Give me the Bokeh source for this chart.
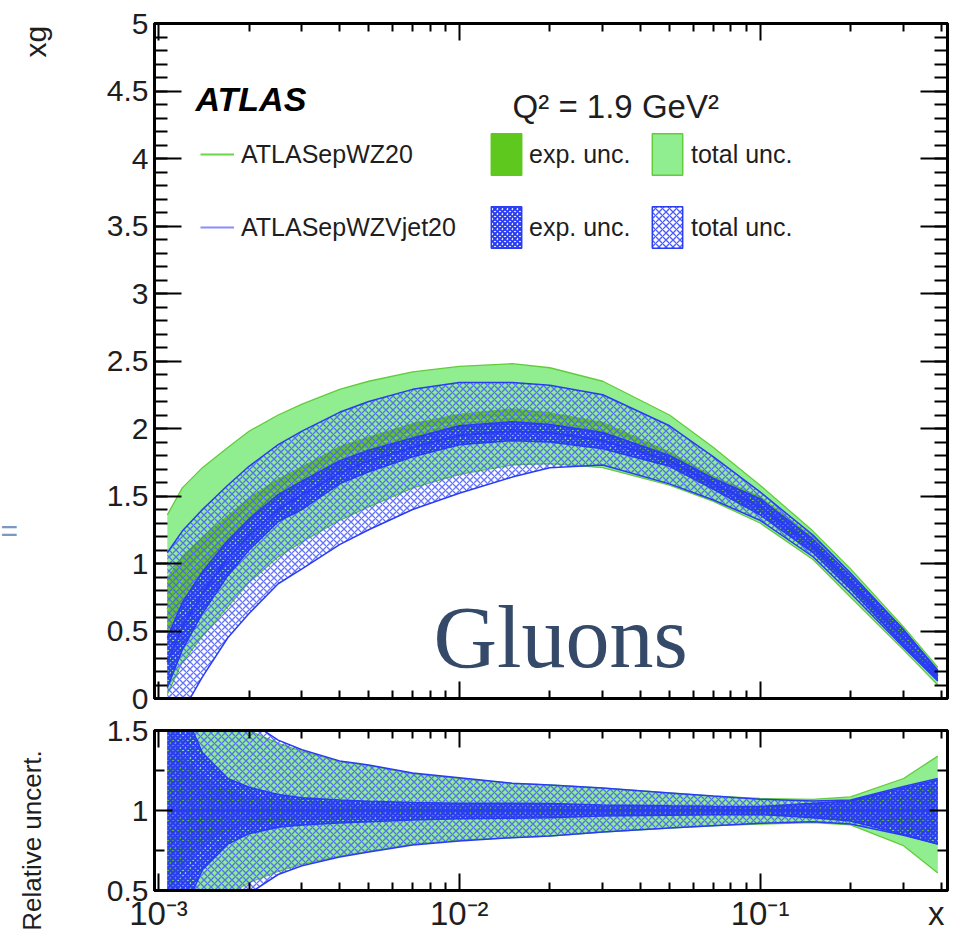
import numpy as np
from bokeh.plotting import figure
from bokeh.models import (Range1d, LinearAxis, LogAxis, FixedTicker,
                          CustomJSTickFormatter, Label, Legend, LegendItem)
from bokeh.layouts import column, row
from bokeh.embed import file_html
from bokeh.resources import INLINE
from bokeh.core.properties import value

# ---------------- data ----------------
x = [0.00107, 0.0012, 0.0014, 0.0017, 0.002, 0.0025, 0.003, 0.004, 0.005, 0.007,
     0.01, 0.015, 0.02, 0.03, 0.05, 0.07, 0.1, 0.15, 0.2, 0.3, 0.39]

# upper panel: xg
g_cen    = [0.66, 0.88, 1.06, 1.25, 1.40, 1.55, 1.64, 1.78, 1.86, 1.97, 2.05, 2.09, 2.07, 2.00, 1.78, 1.60, 1.44, 1.14, 0.86, 0.45, 0.165]
g_exp_up = [0.90, 1.06, 1.20, 1.36, 1.49, 1.63, 1.72, 1.87, 1.94, 2.04, 2.11, 2.15, 2.12, 2.05, 1.83, 1.65, 1.50, 1.20, 0.91, 0.51, 0.19]
g_exp_lo = [0.42, 0.70, 0.92, 1.14, 1.31, 1.47, 1.56, 1.69, 1.78, 1.90, 1.99, 2.03, 2.02, 1.95, 1.73, 1.55, 1.38, 1.08, 0.81, 0.39, 0.14]
g_tot_up = [1.36, 1.56, 1.71, 1.86, 1.98, 2.10, 2.18, 2.29, 2.35, 2.42, 2.46, 2.48, 2.45, 2.35, 2.10, 1.86, 1.58, 1.24, 0.96, 0.53, 0.23]
g_tot_lo = [0.03, 0.27, 0.46, 0.68, 0.86, 1.05, 1.16, 1.32, 1.42, 1.56, 1.66, 1.73, 1.74, 1.71, 1.58, 1.46, 1.30, 1.03, 0.75, 0.36, 0.10]

b_cen    = [0.27, 0.53, 0.78, 1.04, 1.21, 1.40, 1.51, 1.67, 1.76, 1.86, 1.95, 1.98, 1.97, 1.91, 1.76, 1.59, 1.42, 1.13, 0.86, 0.45, 0.17]
b_exp_up = [0.45, 0.71, 0.94, 1.17, 1.33, 1.51, 1.61, 1.76, 1.84, 1.93, 2.02, 2.05, 2.03, 1.97, 1.80, 1.63, 1.48, 1.18, 0.91, 0.51, 0.20]
b_exp_lo = [0.08, 0.36, 0.63, 0.91, 1.10, 1.31, 1.40, 1.59, 1.68, 1.79, 1.88, 1.91, 1.90, 1.85, 1.72, 1.55, 1.36, 1.08, 0.81, 0.39, 0.14]
b_tot_up = [1.08, 1.24, 1.40, 1.58, 1.72, 1.88, 1.98, 2.12, 2.20, 2.29, 2.34, 2.34, 2.32, 2.25, 2.02, 1.79, 1.53, 1.21, 0.93, 0.51, 0.21]
b_tot_lo = [-0.35, -0.10, 0.16, 0.45, 0.63, 0.85, 0.96, 1.14, 1.25, 1.40, 1.52, 1.64, 1.71, 1.73, 1.59, 1.47, 1.32, 1.05, 0.78, 0.38, 0.13]

# lower panel: relative uncertainty
r_one      = [1.0] * 21
r_gtot_up  = [2.30, 2.00, 1.80, 1.62, 1.50, 1.42, 1.37, 1.305, 1.28, 1.23, 1.20, 1.17, 1.16, 1.14, 1.11, 1.09, 1.075, 1.07, 1.085, 1.20, 1.34]
r_gtot_lo  = [-0.30, 0.00, 0.25, 0.47, 0.55, 0.62, 0.665, 0.715, 0.745, 0.79, 0.815, 0.83, 0.84, 0.865, 0.89, 0.905, 0.915, 0.925, 0.91, 0.78, 0.61]
r_btot_up  = [2.50, 2.20, 1.95, 1.72, 1.56, 1.44, 1.38, 1.31, 1.285, 1.235, 1.205, 1.17, 1.16, 1.14, 1.11, 1.09, 1.07, 1.06, 1.065, 1.15, 1.20]
r_btot_lo  = [-0.50, -0.20, 0.10, 0.35, 0.48, 0.60, 0.655, 0.71, 0.74, 0.785, 0.81, 0.83, 0.84, 0.865, 0.89, 0.905, 0.92, 0.93, 0.915, 0.845, 0.79]
r_gexp_up  = [1.60, 1.35, 1.22, 1.13, 1.09, 1.07, 1.06, 1.05, 1.045, 1.04, 1.035, 1.033, 1.032, 1.03, 1.028, 1.027, 1.03, 1.045, 1.065, 1.12, 1.17]
r_gexp_lo  = [0.40, 0.65, 0.78, 0.87, 0.91, 0.93, 0.94, 0.95, 0.955, 0.96, 0.965, 0.967, 0.968, 0.97, 0.972, 0.973, 0.97, 0.955, 0.935, 0.88, 0.83]
r_bexp_up  = [2.00, 1.65, 1.36, 1.20, 1.145, 1.10, 1.08, 1.065, 1.058, 1.05, 1.046, 1.045, 1.044, 1.035, 1.03, 1.027, 1.025, 1.045, 1.06, 1.14, 1.19]
r_bexp_lo  = [0.00, 0.35, 0.63, 0.79, 0.855, 0.895, 0.91, 0.922, 0.93, 0.94, 0.948, 0.952, 0.955, 0.965, 0.97, 0.973, 0.975, 0.955, 0.935, 0.85, 0.79]

x_major = [1e-3, 1e-2, 1e-1]
x_minor = [m * d for d in (1e-3, 1e-2, 1e-1) for m in range(2, 10)]
x_label_ticks = [1e-3, 1e-2, 1e-1, 0.385]
y_major_main = [float(v) for v in np.arange(0, 5.01, 0.5)]
y_minor_main = [float(v) for v in np.round(np.arange(0, 5.001, 0.1), 2)]
y_major_rat = [0.5, 1.0, 1.5]
y_minor_rat = [0.75, 1.25]

# ---------------- style ----------------
FONT = "Liberation Sans"
TXT = "#1e1e1e"
GREEN_TOT = "#90ee90"
GREEN_EXP = "#5ec81e"
GREEN_EDGE = "#62cc3a"
GREEN_LINE = "#6ad64a"
BLUE = "#2a3cf2"
BLUE_T = "#4a5cff"
BLUE_LINE = "#8c8cff"
XR = (0.97e-3, 0.42)
STRIP = 60
PW = 900
YLAB = "30px"

num_fmt = CustomJSTickFormatter(code="return String(Math.round(tick*100)/100);")
blank = CustomJSTickFormatter(code="return '';")
pow_fmt = CustomJSTickFormatter(code=r"""
if (tick > 0.3) { return 'x'; }
const e = Math.round(Math.log10(tick));
const s = {'-3': '10\u207b\u00b3', '-2': '10\u207b\u00b2', '-1': '10\u207b\u00b9'};
return s[String(e)] || '';
""")
xt = FixedTicker(ticks=x_major, minor_ticks=x_minor)
xt_lab = FixedTicker(ticks=x_label_ticks, minor_ticks=[])


def base_fig(height, yr, b_top, b_bottom):
    p = figure(width=PW, height=height, x_axis_type="log",
               x_range=Range1d(*XR), y_range=Range1d(*yr),
               output_backend="svg", toolbar_location=None,
               min_border_left=154 - STRIP, min_border_right=13,
               min_border_top=b_top, min_border_bottom=b_bottom)
    p.xgrid.visible = False
    p.ygrid.visible = False
    p.outline_line_color = "black"
    p.outline_line_width = 3
    p.background_fill_color = "white"
    p.border_fill_color = "white"
    return p


def style(ax, maj, mnr, ticker, formatter, size, standoff=6):
    ax.ticker = ticker
    ax.formatter = formatter
    ax.major_tick_in = maj
    ax.major_tick_out = 0
    ax.minor_tick_in = mnr
    ax.minor_tick_out = 0
    ax.major_tick_line_width = 2
    ax.minor_tick_line_width = 2
    ax.major_tick_line_color = "black"
    ax.minor_tick_line_color = "black"
    ax.axis_line_width = 3
    ax.axis_line_color = "black"
    ax.major_label_text_font = FONT
    ax.major_label_text_font_size = size
    ax.major_label_text_color = TXT
    ax.major_label_standoff = standoff


def draw_bands(p, xs, gtl, gtu, gel, geu, gc, btl, btu, bel, beu, bc):
    p.varea(x=xs, y1=gtl, y2=gtu, fill_color=GREEN_TOT, fill_alpha=1)
    p.line(xs, gtu, line_color=GREEN_EDGE, line_width=1.3)
    p.line(xs, gtl, line_color=GREEN_EDGE, line_width=1.3)
    p.varea(x=xs, y1=gel, y2=geu, fill_color=GREEN_EXP, fill_alpha=1)
    p.line(xs, gc, line_color=GREEN_LINE, line_width=2)
    p.varea(x=xs, y1=btl, y2=btu, fill_alpha=0, hatch_pattern="diagonal_cross",
            hatch_color=BLUE_T, hatch_scale=7, hatch_weight=1.3, hatch_alpha=0.85)
    p.line(xs, btu, line_color=BLUE, line_width=1.5)
    p.line(xs, btl, line_color=BLUE, line_width=1.5)
    p.varea(x=xs, y1=bel, y2=beu, fill_alpha=0, hatch_pattern="diagonal_cross",
            hatch_color=BLUE, hatch_scale=5, hatch_weight=2.2)
    p.line(xs, beu, line_color=BLUE, line_width=1.5)
    p.line(xs, bel, line_color=BLUE, line_width=1.5)
    p.line(xs, bc, line_color=BLUE, line_width=2)


# ---------------- upper panel ----------------
p1 = base_fig(715, (0, 5), 23, 17)
yt1 = FixedTicker(ticks=y_major_main, minor_ticks=y_minor_main)
style(p1.xaxis[0], 17, 8, xt, blank, "1px")
style(p1.yaxis[0], 27, 13, yt1, num_fmt, YLAB)
top1 = LogAxis()
style(top1, 17, 8, xt, blank, "1px")
p1.add_layout(top1, "above")
right1 = LinearAxis()
style(right1, 27, 13, yt1, blank, "1px")
p1.add_layout(right1, "right")

draw_bands(p1, x, g_tot_lo, g_tot_up, g_exp_lo, g_exp_up, g_cen,
           b_tot_lo, b_tot_up, b_exp_lo, b_exp_up, b_cen)

# legend proxies (one NaN point each, never visible on the plot)
nan1 = [float("nan")]
nan2 = [float("nan"), float("nan")]
lg_g = p1.line(x=nan2, y=nan2, line_color=GREEN_LINE, line_width=2)
lg_b = p1.line(x=nan2, y=nan2, line_color=BLUE_LINE, line_width=2)
q_gexp = p1.quad(left=nan1, right=nan1, top=nan1, bottom=nan1, fill_color=GREEN_EXP,
                 line_color=GREEN_EXP, line_width=1.5)
q_gtot = p1.quad(left=nan1, right=nan1, top=nan1, bottom=nan1, fill_color=GREEN_TOT,
                 line_color=GREEN_EDGE, line_width=1.5)
q_bexp = p1.quad(left=nan1, right=nan1, top=nan1, bottom=nan1, fill_alpha=0,
                 hatch_pattern="diagonal_cross", hatch_color=BLUE, hatch_scale=5,
                 hatch_weight=2.2, line_color=BLUE, line_width=1.5)
q_btot = p1.quad(left=nan1, right=nan1, top=nan1, bottom=nan1, fill_alpha=0,
                 hatch_pattern="diagonal_cross", hatch_color=BLUE_T, hatch_scale=7,
                 hatch_weight=1.3, line_color=BLUE, line_width=1.5)


def add_legend(items, loc, gw, gh, spacing, standoff):
    lg = Legend(items=items, location=loc, orientation="vertical",
                glyph_width=gw, glyph_height=gh, label_height=gh,
                label_standoff=standoff, spacing=spacing, padding=0, margin=0,
                border_line_alpha=0, background_fill_alpha=0,
                label_text_font=FONT, label_text_font_size="25px",
                label_text_color=TXT)
    p1.add_layout(lg)


add_legend([LegendItem(label=value("ATLASepWZ20"), renderers=[lg_g]),
            LegendItem(label=value("ATLASepWZVjet20"), renderers=[lg_b])],
           (46, 445), 34, 52, 21, 7)
add_legend([LegendItem(label=value("exp. unc."), renderers=[q_gexp]),
            LegendItem(label=value("exp. unc."), renderers=[q_bexp])],
           (333, 445), 38, 52, 21, 4)
add_legend([LegendItem(label=value("total unc."), renderers=[q_gtot]),
            LegendItem(label=value("total unc."), renderers=[q_btot])],
           (494, 445), 38, 52, 21, 5)

p1.add_layout(Label(x=1.328e-3, y=4.444, text="ATLAS", text_font=FONT,
                    text_font_size="34px", text_font_style="bold italic",
                    text_color="black", text_baseline="alphabetic"))
p1.add_layout(Label(x=0.01504, y=4.385, text="Q\u00b2 = 1.9 GeV\u00b2", text_font=FONT,
                    text_font_size="33px", text_color=TXT, text_baseline="alphabetic"))
p1.add_layout(Label(x=8.21e-3, y=0.452, text="Gluons", text_font="Liberation Serif",
                    text_font_size="88px", text_color="#344a68",
                    text_baseline="alphabetic"))

# ---------------- lower panel ----------------
p2 = base_fig(227, (0.5, 1.5), 15, 52)
yt2 = FixedTicker(ticks=y_major_rat, minor_ticks=y_minor_rat)
style(p2.xaxis[0], 17, 8, xt, blank, "1px", standoff=0)
style(p2.yaxis[0], 18, 10, yt2, num_fmt, YLAB)
lab2 = LogAxis()
style(lab2, 0, 0, xt_lab, pow_fmt, "33px", standoff=4)
lab2.axis_line_alpha = 0
lab2.major_tick_line_alpha = 0
lab2.minor_tick_line_alpha = 0
p2.add_layout(lab2, "below")
top2 = LogAxis()
style(top2, 17, 8, xt, blank, "1px")
p2.add_layout(top2, "above")
right2 = LinearAxis()
style(right2, 18, 10, yt2, blank, "1px")
p2.add_layout(right2, "right")

draw_bands(p2, x, r_gtot_lo, r_gtot_up, r_gexp_lo, r_gexp_up, r_one,
           r_btot_lo, r_btot_up, r_bexp_lo, r_bexp_up, r_one)

# ---------------- left strip with the rotated axis titles ----------------
strip = figure(width=STRIP, height=942, x_range=Range1d(0, STRIP), y_range=Range1d(942, 0),
               x_axis_location=None, y_axis_location=None, output_backend="svg",
               toolbar_location=None, min_border=0)
strip.outline_line_color = None
strip.xgrid.visible = False
strip.ygrid.visible = False
strip.add_layout(Label(x=35, y=57, text="xg", text_font=FONT, text_font_size="30px",
                       text_color=TXT, angle=np.pi / 2, text_align="left",
                       text_baseline="alphabetic"))
strip.add_layout(Label(x=31, y=840, text="Relative uncert.", text_font=FONT,
                       text_font_size="26px", text_color=TXT, angle=np.pi / 2,
                       text_align="center", text_baseline="alphabetic"))
strip.add_layout(Label(x=0, y=530, text="=", text_font=FONT, text_font_size="30px",
                       text_color="#7d98c0", text_align="left", text_baseline="middle"))

layout = row(strip, column(p1, p2))
with open("out.html", "w", encoding="utf-8") as f:
    f.write(file_html(layout, INLINE))
